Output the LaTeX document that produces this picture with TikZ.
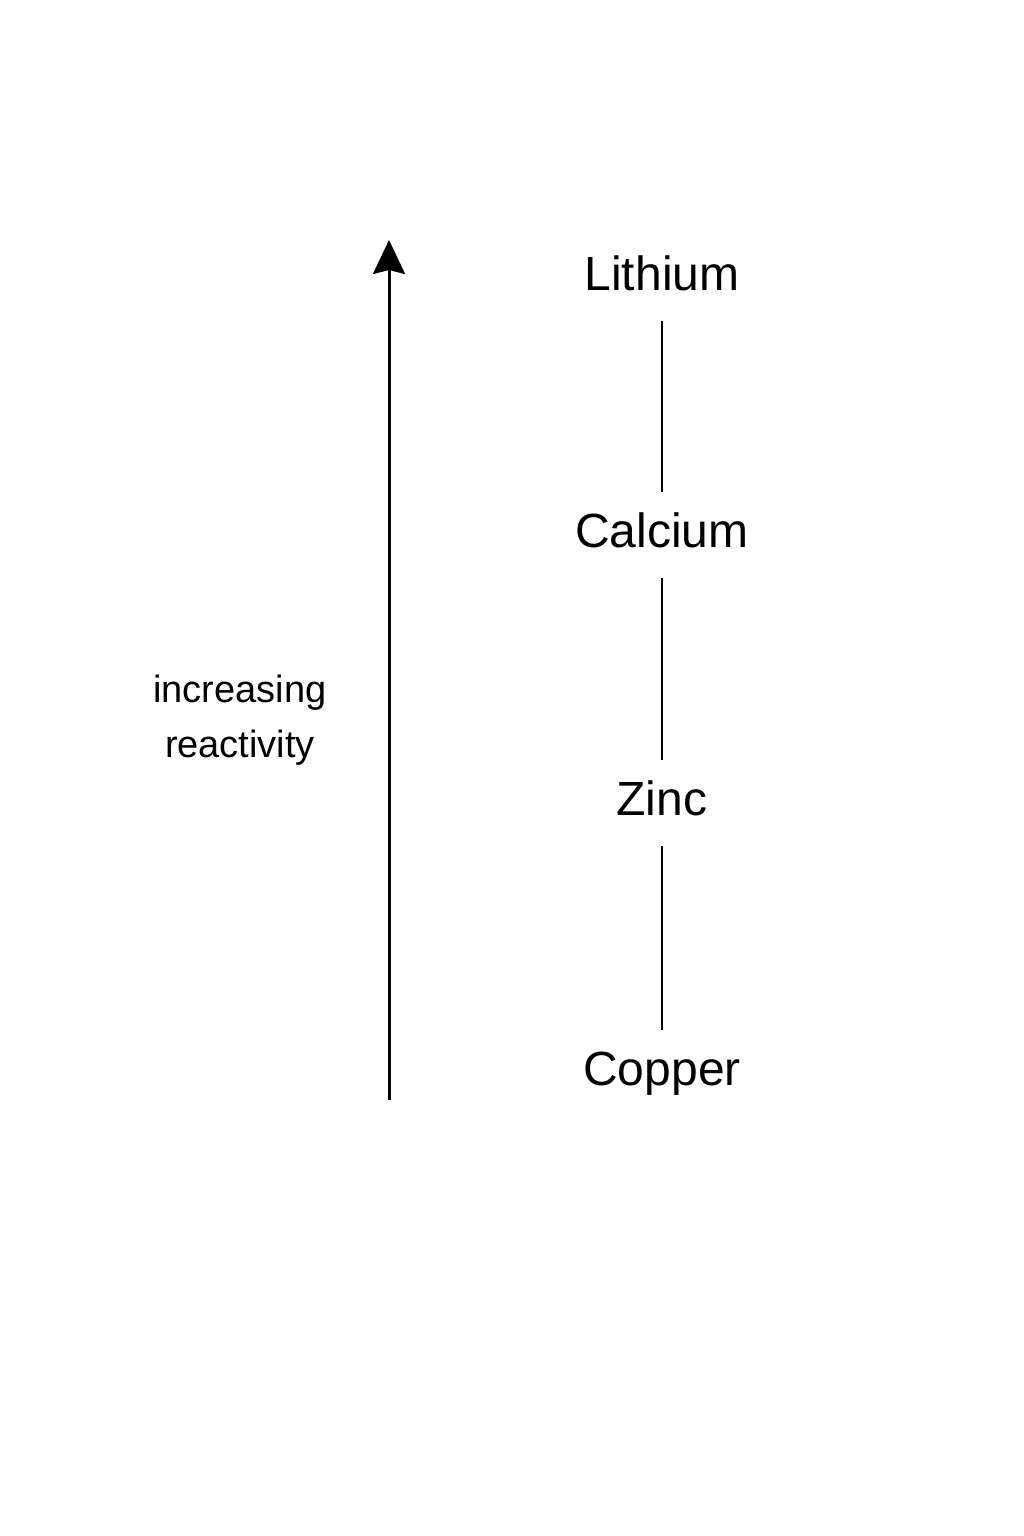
\documentclass[tikz,border=0pt]{standalone}
\usepackage{fontspec}
\setmainfont{Liberation Sans}
\usetikzlibrary{arrows.meta}
\begin{document}
\begin{tikzpicture}[x=1pt,y=-1pt,
  metal/.style={font=\fontsize{48}{52}\selectfont, text height=34pt, text depth=10pt, inner sep=0pt},
  link/.style={line width=2.5pt, shorten <=21pt, shorten >=21pt},
  lbl/.style={font=\fontsize{38}{55}\selectfont, align=center}]
\useasboundingbox (0,0) rectangle (1024,1536);
\fill[white] (0,0) rectangle (1024,1536);
\coordinate (bot) at (389,1100);
\coordinate (top) at (389,240);
\draw[line width=3pt,-{Stealth[length=34pt,width=32pt,inset=4pt]}] (bot) -- (top);
\node[metal] (li) at (662,278) {Lithium};
\node[metal] (ca) at (662,535) {Calcium};
\node[metal] (zn) at (662,803) {Zinc};
\node[metal] (cu) at (662,1073) {Copper};
\draw[link] (li) -- (ca);
\draw[link] (ca) -- (zn);
\draw[link] (zn) -- (cu);
\node[lbl] (txt) at (240,720) {increasing\\reactivity};
\end{tikzpicture}
\end{document}
